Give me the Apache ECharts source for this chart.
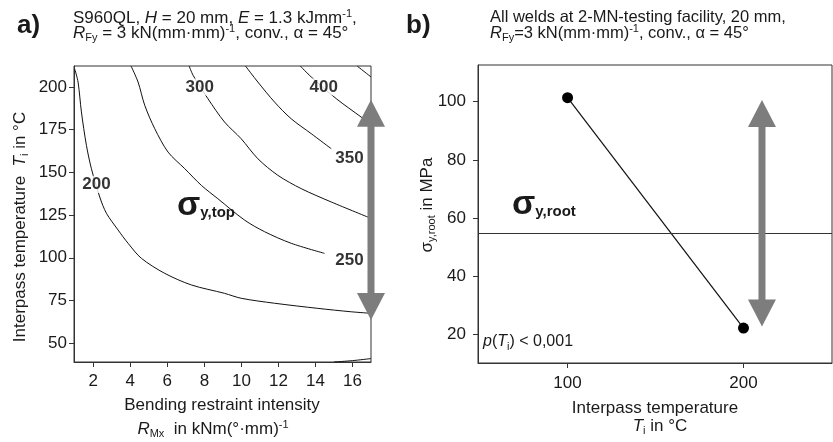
<!DOCTYPE html>
<html><head><meta charset="utf-8">
<script src="https://cdn.jsdelivr.net/npm/echarts@6/dist/echarts.min.js"></script>
<style>html,body{margin:0;padding:0;background:#fff}#c{width:833px;height:442px}</style>
</head><body><div id="c"></div>
<script>
// ---------------- data ----------------
// panel a) contour lines of sigma_y,top (x = R_Mx, y = T_i)
const xTicksA = [2, 4, 6, 8, 10, 12, 14, 16];
const yTicksA = [50, 75, 100, 125, 150, 175, 200];
const contour150 = [[15.0, 39.0], [16.0, 39.8], [17.0, 41.0]];
const contour200 = [[1.0, 210.5], [1.18, 202.9], [1.36, 185.4], [1.63, 165.9], [1.90, 152.2], [2.35, 135.6], [2.71, 126.1], [3.34, 116.3], [3.88, 108.5], [4.60, 99.7], [5.86, 90.9], [7.30, 84.1], [9.09, 79.2], [9.99, 76.3], [11.79, 73.4], [14.13, 70.4], [15.93, 68.4], [17.0, 67.5]];
const contour250 = [[4.04, 212.3], [4.42, 202.9], [4.78, 189.3], [5.32, 175.6], [6.04, 161.9], [6.94, 152.2], [7.84, 142.4], [8.73, 134.6], [10.17, 122.1], [11.25, 115.3], [12.69, 108.5], [14.49, 102.6]];
const contour300 = [[7.18, 212.3], [7.39, 206.9], [8.19, 193.2], [9.09, 179.5], [9.99, 169.7], [10.89, 158.0], [11.97, 148.3], [13.23, 140.5], [14.85, 132.7], [17.0, 123.1]];
const contour350 = [[10.22, 212.3], [10.89, 202.9], [11.79, 191.2], [12.69, 181.4], [13.77, 172.7], [14.85, 163.9]];
const contour400 = [[13.18, 212.3], [13.77, 205.9], [15.12, 193.2], [16.47, 182.4], [17.0, 178.0]];
const contour450 = [[16.25, 212.3], [17.0, 205.9]];
const contourLabelX = [2.17, 15.84, 7.75, 15.84, 14.45];
const contourLabelY = [142.9, 98.7, 200.0, 158.0, 200.0];
const contourLabelText = ['200', '250', '300', '350', '400'];
const arrowA = [17.0, 192.5, 63.6];       // x, top tip, bottom tip

// panel b) sigma_y,root vs interpass temperature
const xTicksB = [100, 200];
const yTicksB = [20, 40, 60, 80, 100];
const tempB = [100, 200];
const sigmaRootB = [101.4, 22.3];
const sigmaRootMeanB = 55;
const arrowB = [210.5, 100.6, 22.8];

// ---------------- styling ----------------
const F = '"Liberation Sans", Arial, Helvetica, sans-serif';
const C = '#1a1a1a';
function R(fs, weight) {
  const w = weight || 'normal';
  return {
    n:   {fontSize: fs, fontFamily: F, color: C, fontWeight: w, lineHeight: 20},
    it:  {fontSize: fs, fontFamily: F, color: C, fontWeight: w, fontStyle: 'italic', lineHeight: 20},
    sub: {fontSize: Math.round(fs * 0.66), fontFamily: F, color: C, fontWeight: w, verticalAlign: 'bottom', lineHeight: 8},
    sup: {fontSize: Math.round(fs * 0.66), fontFamily: F, color: C, fontWeight: w, verticalAlign: 'top', lineHeight: 12}
  };
}
function txt(x, y, text, fs, align, opts) {
  opts = opts || {};
  return {
    type: 'text', x: x, y: y, rotation: opts.rot || 0, z: 100,
    style: {
      text: text, rich: opts.rich || R(fs, opts.weight),
      align: align, textAlign: align, verticalAlign: 'middle', textVerticalAlign: 'middle',
      fontSize: fs, fontFamily: F, fill: C
    }
  };
}
const sigmaRich = {
  s:  {fontSize: 34, fontWeight: 'bold', fontFamily: F, color: '#000', lineHeight: 30},
  ss: {fontSize: 15, fontWeight: 'bold', fontFamily: F, color: '#000', verticalAlign: 'bottom', lineHeight: 8}
};

function axisCommon(ticks, margin) {
  return {
    axisLine: {show: true, lineStyle: {color: '#333', width: 1}},
    axisTick: {show: true, length: 5, customValues: ticks, lineStyle: {color: '#333', width: 1}},
    axisLabel: {show: true, customValues: ticks, margin: margin, fontSize: 17, fontFamily: F, color: C},
    splitLine: {show: false}
  };
}

function arrowRender(params, api) {
  const x = api.value(0), y1 = api.value(1), y2 = api.value(2);
  const t = api.coord([x, y1]);
  const b = api.coord([x, y2]);
  const hl = 27, hw = 14, sw = 3.5;
  const fill = '#7d7d7d';
  return {
    type: 'group',
    children: [
      {type: 'polygon', shape: {points: [[t[0], t[1]], [t[0] - hw, t[1] + hl], [t[0] + hw, t[1] + hl]]}, style: {fill: fill}},
      {type: 'rect', shape: {x: t[0] - sw, y: t[1] + hl - 1, width: 2 * sw, height: (b[1] - t[1]) - 2 * hl + 2}, style: {fill: fill}},
      {type: 'polygon', shape: {points: [[b[0], b[1]], [b[0] - hw, b[1] - hl], [b[0] + hw, b[1] - hl]]}, style: {fill: fill}}
    ]
  };
}

const contourSets = [contour150, contour200, contour250, contour300, contour350, contour400, contour450];
const contourSeries = contourSets.map(d => ({
  type: 'line', xAxisIndex: 0, yAxisIndex: 0, data: d, smooth: 0.3,
  symbol: 'none', silent: true, z: 2,
  lineStyle: {color: '#111', width: 1}
}));

const chart = echarts.init(document.getElementById('c'), null, {renderer: 'canvas'});
chart.setOption({
  animation: false,
  backgroundColor: '#fff',
  grid: [
    {left: 74, top: 66, width: 297, height: 296, show: true, borderColor: '#333', borderWidth: 1, backgroundColor: 'transparent'},
    {left: 478, top: 65, width: 354, height: 298, show: true, borderColor: '#333', borderWidth: 1, backgroundColor: 'transparent'}
  ],
  xAxis: [
    Object.assign({type: 'value', gridIndex: 0, min: 0.96, max: 17.0}, axisCommon(xTicksA, 11)),
    Object.assign({type: 'value', gridIndex: 1, min: 49.1, max: 250.3}, axisCommon(xTicksB, 12))
  ],
  yAxis: [
    Object.assign({type: 'value', gridIndex: 0, min: 39.0, max: 212.3}, axisCommon(yTicksA, 7)),
    Object.assign({type: 'value', gridIndex: 1, min: 10.3, max: 112.6}, axisCommon(yTicksB, 12))
  ],
  series: contourSeries.concat([
    {
      type: 'scatter', xAxisIndex: 0, yAxisIndex: 0, z: 4, silent: true,
      data: contourLabelX.map((x, i) => [x, contourLabelY[i]]),
      symbolSize: 1, itemStyle: {color: 'transparent'},
      label: {show: true, position: 'inside', formatter: p => contourLabelText[p.dataIndex],
        fontSize: 17, fontWeight: 'bold', fontFamily: F, color: '#000', backgroundColor: '#fff', padding: [0, 1]}
    },
    {
      type: 'custom', xAxisIndex: 0, yAxisIndex: 0, z: 6, silent: true, clip: false,
      data: [arrowA], renderItem: arrowRender
    },
    {
      type: 'line', xAxisIndex: 1, yAxisIndex: 1, z: 3, silent: true,
      data: tempB.map((t, i) => [t, sigmaRootB[i]]),
      symbol: 'circle', symbolSize: 11,
      itemStyle: {color: '#000'}, lineStyle: {color: '#111', width: 1.2},
      markLine: {silent: true, symbol: ['none', 'none'], label: {show: false},
        lineStyle: {color: '#333', width: 1.2, type: 'solid'}, data: [{yAxis: sigmaRootMeanB}]}
    },
    {
      type: 'custom', xAxisIndex: 1, yAxisIndex: 1, z: 6, silent: true, clip: false,
      data: [arrowB], renderItem: arrowRender
    }
  ]),
  graphic: [
    txt(17, 26, '{n|a)}', 26, 'left', {rich: {n: {fontSize: 26, fontWeight: 'bold', fontFamily: F, color: '#000'}}}),
    txt(406, 26, '{n|b)}', 26, 'left', {rich: {n: {fontSize: 26, fontWeight: 'bold', fontFamily: F, color: '#000'}}}),
    txt(73, 18.5, '{n|S960QL, }{it|H}{n| = 20 mm, }{it|E}{n| = 1.3 kJmm}{sup|-1}{n|,}', 17, 'left'),
    txt(73, 33.5, '{it|R}{sub|Fy}{n| = 3 kN(mm·mm)}{sup|-1}{n|, conv., α = 45°}', 17, 'left'),
    txt(490, 17.5, '{n|All welds at 2-MN-testing facility, 20 mm,}', 16.5, 'left'),
    txt(490, 33.5, '{it|R}{sub|Fy}{n|=3 kN(mm·mm)}{sup|-1}{n|, conv., α = 45°}', 16.5, 'left'),
    txt(20, 227, '{n|Interpass temperature  }{it|T}{sub|i}{n| in °C}', 17, 'center', {rot: Math.PI / 2}),
    txt(222, 405, '{n|Bending restraint intensity}', 17, 'center'),
    txt(213, 429.5, '{it|R}{sub|Mx}{n|  in kNm(°·mm)}{sup|-1}', 17, 'center'),
    txt(427, 205, '{n|σ}{sub|y,root}{n| in MPa}', 17, 'center', {rot: Math.PI / 2}),
    txt(655, 408, '{n|Interpass temperature}', 17, 'center'),
    txt(660, 426.5, '{it|T}{sub|i}{n| in °C}', 17, 'center'),
    txt(483, 342, '{it|p}{n|(}{it|T}{sub|i}{n|) < 0,001}', 16, 'left'),
    txt(177, 205.5, '{s|σ}{ss|y,top}', 34, 'left', {rich: sigmaRich}),
    txt(512, 204.5, '{s|σ}{ss|y,root}', 34, 'left', {rich: sigmaRich})
  ]
});
</script>
</body></html>
